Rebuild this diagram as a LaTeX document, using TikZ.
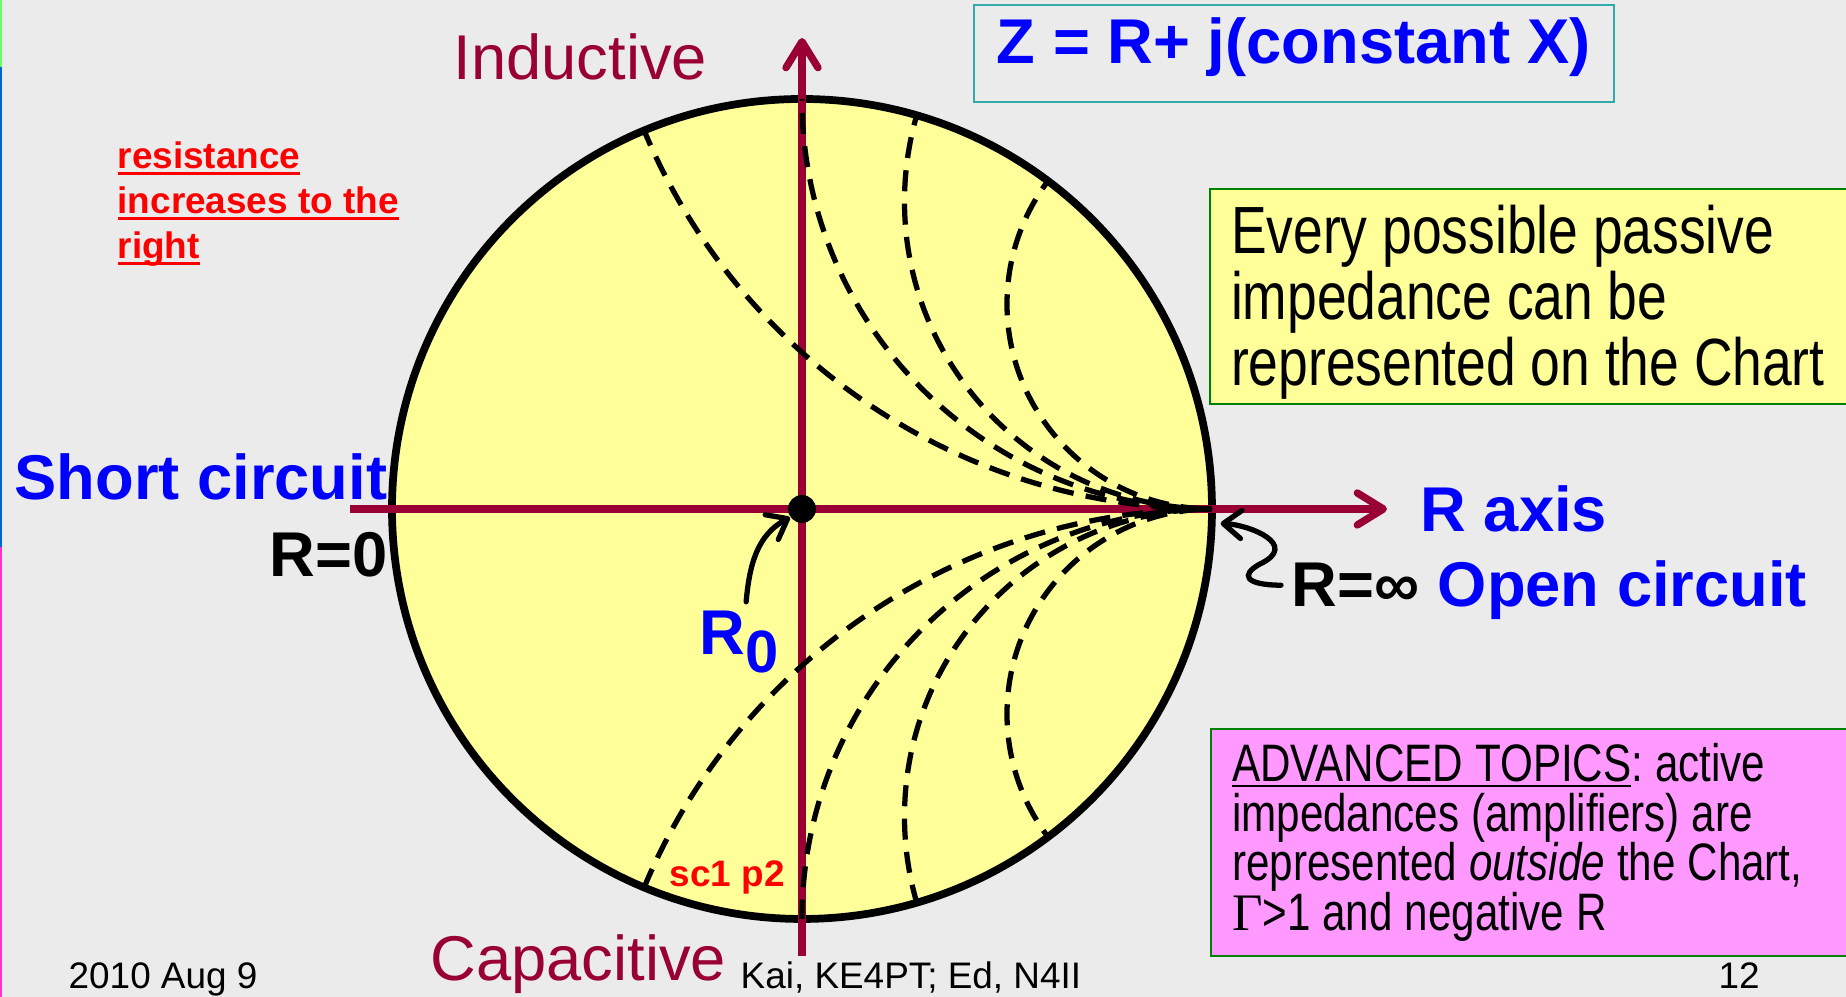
\documentclass[tikz,border=0pt]{standalone}
\usepackage{fontspec}
\setmainfont{Liberation Sans}
\newfontfamily\narrowfont[FakeStretch=0.8]{Liberation Sans}
\newfontfamily\gammafont{Liberation Serif}
\usetikzlibrary{arrows.meta,positioning}

\definecolor{slidegray}{HTML}{EBEBEB}
\definecolor{chartyellow}{HTML}{FFFF99}
\definecolor{axisred}{HTML}{990033}
\definecolor{labelblue}{HTML}{0000FF}
\definecolor{notered}{HTML}{FF0000}
\definecolor{boxgreen}{HTML}{008000}
\definecolor{boxteal}{HTML}{33AAAA}
\definecolor{boxpink}{HTML}{FF99FF}
\definecolor{stripegreen}{HTML}{66FF66}
\definecolor{stripeblue}{HTML}{0066CC}
\definecolor{stripepink}{HTML}{FF33CC}

% underline: depth of its lower edge, thickness, text
\newsavebox{\ulbox}
\newcommand{\lineunder}[3]{\sbox\ulbox{#3}\rlap{\rule[-#1]{\wd\ulbox}{#2}}\usebox\ulbox}

\begin{document}
\frenchspacing
\begin{tikzpicture}[
  chartaxis/.style={axisred, line width=2.1pt, -{Straight Barb[length=0.26cm,width=0.32cm,round]}},
  reactance/.style={black, line width=1.5pt, dash pattern=on 6pt off 3.5pt},
  pointer/.style={black, line width=1.5pt, line cap=round, -{Straight Barb[length=0.18cm,width=0.28cm,round]}},
  biglabel/.style={inner sep=0pt, font=\fontsize{18}{21}\selectfont\bfseries},
  axislabel/.style={inner sep=0pt, axisred, font=\fontsize{18}{21}\selectfont},
  smallnote/.style={inner sep=0pt, notered, font=\fontsize{10.5}{12.8}\selectfont\bfseries},
  footer/.style={inner sep=0pt, anchor=base west, font=\fontsize{10.5}{12.6}\selectfont},
  notebox/.style={draw=boxgreen, line width=0.6pt, anchor=north west, align=left, inner xsep=0.21cm, inner ysep=0pt}
]
\useasboundingbox (0,0) rectangle (18.46,9.97);
\clip (0,0) rectangle (18.46,9.97);
\fill[slidegray] (0,0) rectangle (18.46,9.97);
% coloured edge of the slide
\fill[stripegreen] (0,9.30) rectangle (0.02,9.97);
\fill[stripeblue] (0,4.50) rectangle (0.02,9.30);
\fill[stripepink] (0,0) rectangle (0.02,4.50);

% the chart and its axes
\node[circle, draw, line width=2.2pt, fill=chartyellow, minimum size=8.2cm] (chart) at (8.02,4.88) {};
\coordinate (rstart) at (3.50,4.88);
\coordinate (rend) at (13.87,4.88);
\coordinate (xbottom) at (8.02,0.41);
\coordinate (xtop) at (8.02,9.59);
\draw[chartaxis] (rstart) -- (rend);
\draw[chartaxis] (xbottom) -- (xtop);

% constant reactance arcs
\begin{scope}[shift={(chart.center)}, scale=4.1]
  \clip (0,0) circle (1);
  \foreach \r in {1.5,1,0.75,0.5} {
    \draw[reactance] (1,\r) circle (\r);
    \draw[reactance] (1,-\r) circle (\r);
  }
\end{scope}
\node[circle, fill=black, minimum size=0.28cm, inner sep=0pt] (origin) at (chart.center) {};

% labels
\node[axislabel, anchor=base west] (inductive) at (4.53,9.17) {Inductive};
\node[axislabel, anchor=base west] (capacitive) at (4.30,0.16) {Capacitive};
\node[biglabel, labelblue, anchor=base east] (short) at (3.88,4.97) {Short circuit};
\node[biglabel, anchor=base east] (rzero) at (3.88,4.20) {R=0};
\node[biglabel, labelblue, anchor=base west] (raxis) at (14.20,4.65) {R axis};
\node[biglabel, anchor=base west] (rinf) at (12.91,3.90) {R=∞};
\node[biglabel, labelblue, base right=0.17cm of rinf] (open) {Open circuit};
\node[biglabel, labelblue, anchor=base west] (rnought) at (6.99,3.42) {R\raisebox{-0.27em}{\fontsize{17}{17}\selectfont 0}};
\node[smallnote, anchor=base west] (sheet) at (6.69,1.10) {sc1 p2};
\node[smallnote, anchor=north west, align=left] (rising) at (1.17,8.56) {\lineunder{1.9pt}{0.95pt}{resistance}\\\lineunder{1.9pt}{0.95pt}{increases to the}\\\lineunder{1.9pt}{0.95pt}{right}};

% boxes
\node[biglabel, text=labelblue, draw=boxteal, line width=0.7pt, minimum width=6.40cm, minimum height=0.97cm, text height=0.7em, text depth=0.15em] (zbox) at (12.94,9.435) {Z = R+ j(constant X)};
\node[notebox, fill=chartyellow, minimum height=2.15cm, text width=6.2cm, font=\narrowfont\fontsize{19}{17.6}\selectfont] (passive) at (12.09,8.09) {\spaceskip=4.2pt plus 1pt\xspaceskip=4.2pt plus 1pt\relax\rule{0pt}{17pt}Every possible passive\\impedance can be\\represented on the Chart};
\node[notebox, fill=boxpink, minimum height=2.27cm, text width=6.3cm, font=\narrowfont\fontsize{15}{14.1}\selectfont] (advanced) at (12.10,2.69) {\spaceskip=3.4pt plus 1pt\xspaceskip=3.4pt plus 1pt\relax \lineunder{1.5pt}{0.6pt}{ADVANCED TOPICS}: active\\impedances (amplifiers) are\\represented \textit{outside} the Chart,\\{\gammafont Γ}>1 and negative R};

% footer
\node[footer] (date) at (0.68,0.08) {2010 Aug 9};
\node[footer] (authors) at (7.40,0.08) {Kai, KE4PT; Ed, N4II};
\node[footer] (page) at (17.18,0.08) {12};

% pointers
\draw[pointer] ([xshift=0.7mm,yshift=0.9mm]rnought.north) to[out=85,in=208] (origin.215);
\draw[pointer] ([xshift=-1mm]rinf.west) .. controls (12.45,4.12) and (12.40,4.22) .. (12.60,4.33) .. controls (13.00,4.52) and (12.50,4.72) .. ([xshift=0.5mm]chart.-2);
\end{tikzpicture}
\end{document}
